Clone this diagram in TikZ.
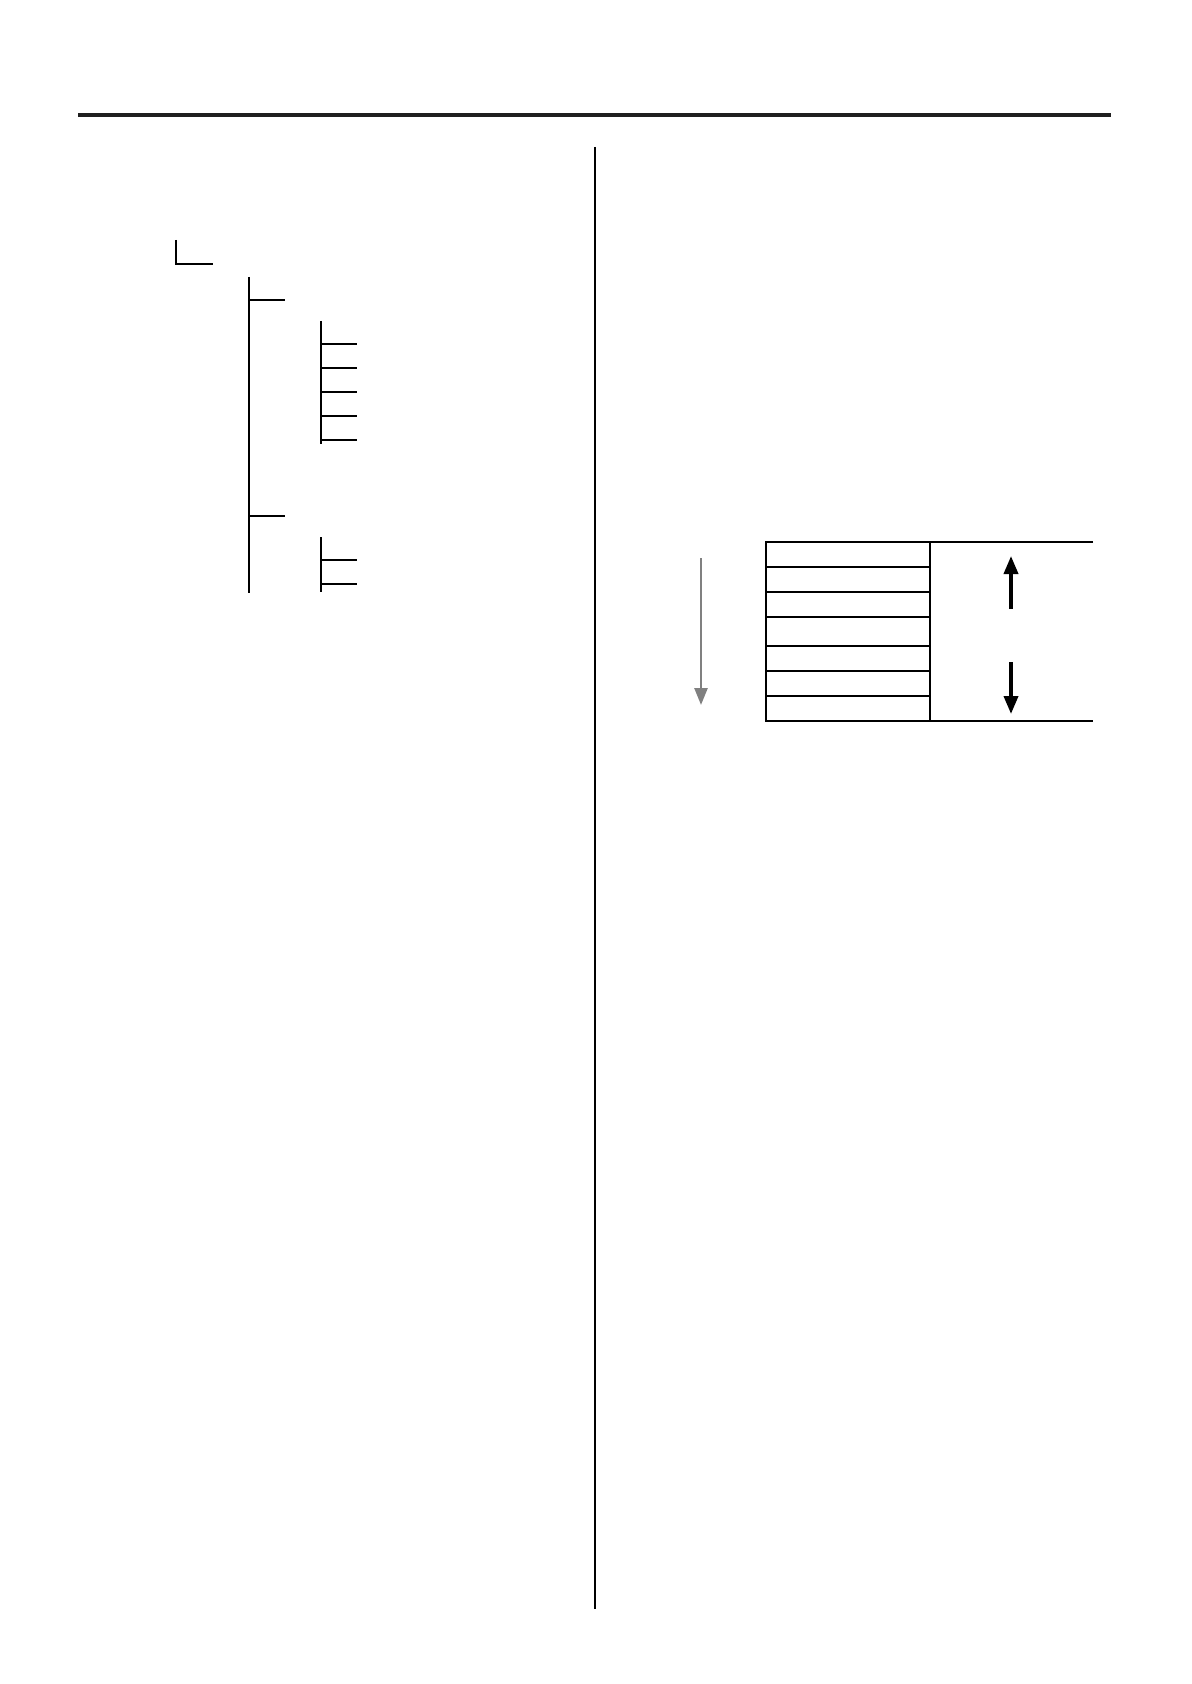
\documentclass[tikz,border=0pt]{standalone}
\usepackage{xcolor}
\usepackage{tikz}
\usetikzlibrary{arrows.meta}

\definecolor{arrowgray}{RGB}{128,128,128}

\begin{document}
\begin{tikzpicture}[x=0.5pt,y=-0.5pt,
  treeline/.style={line width=0.85pt},
  tableline/.style={line width=1.1pt},
  bigarrow/.style={line width=1.8pt,-{Triangle[length=9pt,width=7pt]}},
  grayarrow/.style={line width=1.3pt,arrowgray,-{Triangle[length=8.5pt,width=6.5pt]}}]

\useasboundingbox (0,0) rectangle (1191,1684);

% header rule and column divider
\coordinate (r1) at (78,115);
\coordinate (r2) at (1111,115);
\coordinate (d1) at (595,147);
\coordinate (d2) at (595,1609);
\draw[line width=2.3pt, black!88] (r1) -- (r2);
\draw[line width=0.7pt] (d1) -- (d2);

% root
\coordinate (n0) at (176,240);
\coordinate (n0c) at (176,264);
\coordinate (n0e) at (213,264);

% first level
\coordinate (n1) at (249,277);
\coordinate (n1b) at (249,593);
\coordinate (n11) at (249,300);
\coordinate (n12) at (249,516);

% second level
\coordinate (n21) at (321,321);
\coordinate (n21b) at (321,444);
\coordinate (n22) at (321,537);
\coordinate (n22b) at (321,592);

\draw[treeline] (n0) -- (n0c) -- (n0e);
\draw[treeline] (n1) -- (n1b);
\draw[treeline] (n11) -- ++(36,0);
\draw[treeline] (n12) -- ++(36,0);
\draw[treeline] (n21) -- (n21b);
\draw[treeline] (n22) -- (n22b);
\foreach \y in {344,368,392,416,440}
  \draw[treeline] (321,\y) -- (357,\y);
\foreach \y in {560,584}
  \draw[treeline] (321,\y) -- (357,\y);

% table
\draw[tableline] (1093,542) -- (766,542) -- (766,721) -- (1093,721);
\draw[tableline] (930,542) -- (930,721);
\foreach \y in {567,592,617,646,671,696}
  \draw[tableline] (766,\y) -- (930,\y);

% arrows
\coordinate (up1) at (1011,609);
\coordinate (up2) at (1011,556);
\coordinate (dn1) at (1011,662);
\coordinate (dn2) at (1011,714);
\coordinate (g1) at (701,558);
\coordinate (g2) at (701,705);
\draw[bigarrow] (up1) -- (up2);
\draw[bigarrow] (dn1) -- (dn2);
\draw[grayarrow] (g1) -- (g2);

\end{tikzpicture}
\end{document}
